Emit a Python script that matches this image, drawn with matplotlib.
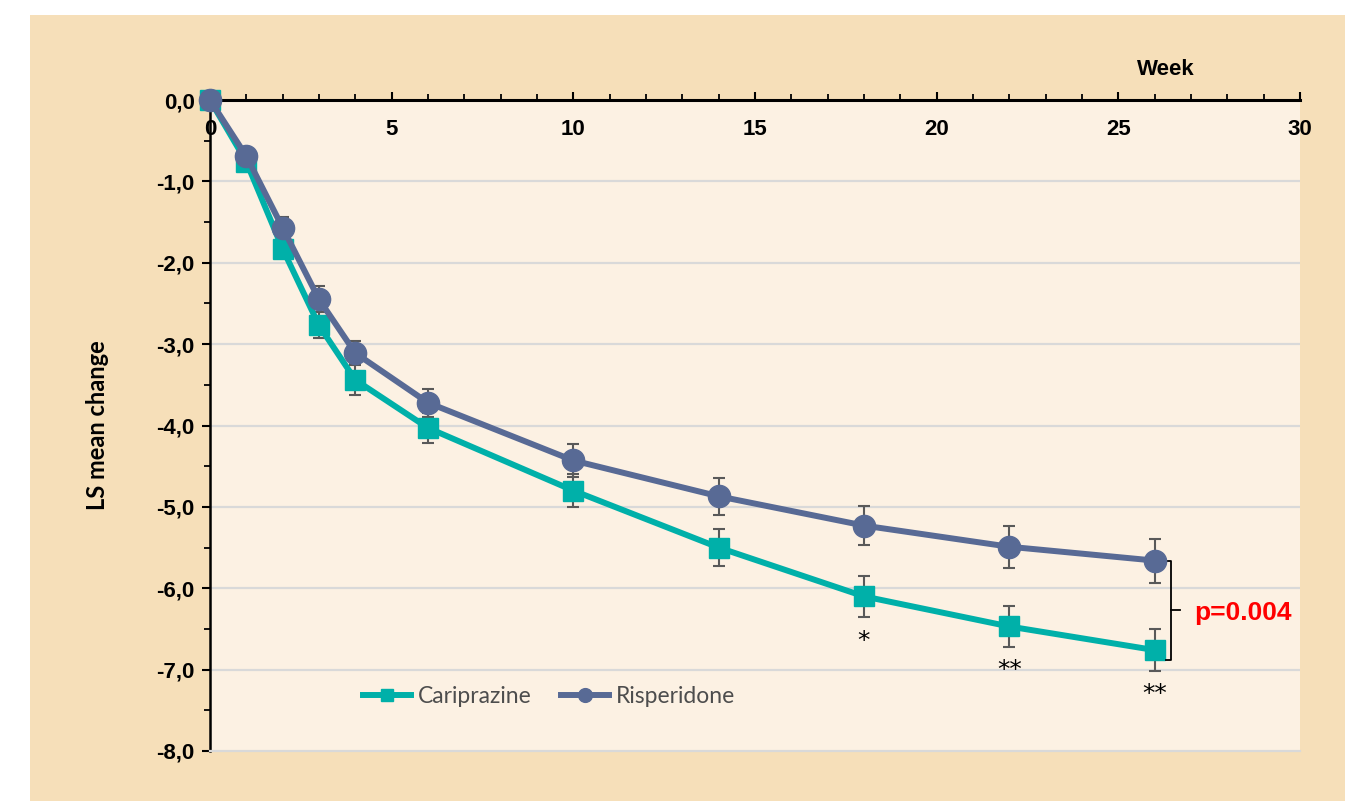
import matplotlib
matplotlib.use("Agg")
import matplotlib.pyplot as plt
from matplotlib.patches import Rectangle

# LS mean change by week
weeks = [0, 1, 2, 3, 4, 6, 10, 14, 18, 22, 26]
cariprazine = [0.0, -0.76, -1.83, -2.77, -3.44, -4.03, -4.80, -5.50, -6.10, -6.47, -6.76]
cariprazine_err = [0.0, 0.05, 0.10, 0.16, 0.19, 0.18, 0.20, 0.23, 0.25, 0.25, 0.26]
risperidone = [0.0, -0.69, -1.57, -2.45, -3.11, -3.72, -4.43, -4.87, -5.23, -5.49, -5.66]
risperidone_err = [0.0, 0.05, 0.13, 0.16, 0.15, 0.17, 0.20, 0.23, 0.24, 0.26, 0.27]

# significance marks under cariprazine
star_weeks = [18, 22, 26]
star_labels = ["*", "**", "**"]
star_y = [-6.57, -6.93, -7.22]

x_ticks = [0, 5, 10, 15, 20, 25, 30]
y_ticks = [0, -1, -2, -3, -4, -5, -6, -7, -8]
y_labels = ["0,0", "-1,0", "-2,0", "-3,0", "-4,0", "-5,0", "-6,0", "-7,0", "-8,0"]

teal = "#00B0A9"
slate = "#586A95"
tan = "#F6DFB9"
cream = "#FCF1E3"
errc = "#595959"

fig = plt.figure(figsize=(13.56, 8.01), dpi=100)
fig.patches.append(Rectangle((30 / 1356, 0), 1315 / 1356, 786 / 801,
                             transform=fig.transFigure, facecolor=tan,
                             edgecolor="none", zorder=-10))

ax = fig.add_axes([210 / 1356, 1 - 751 / 801, 1090 / 1356, 651 / 801])
ax.set_facecolor(cream)
ax.set_xlim(0, 30)
ax.set_ylim(-8, 0)

for v in y_ticks[1:-1]:
    ax.axhline(v, color="#D9D9D9", lw=1.6, zorder=1)

ax.errorbar(weeks, cariprazine, yerr=cariprazine_err, fmt="none", ecolor=errc,
            elinewidth=1.5, capsize=4.5, capthick=1.5, zorder=2)
ax.errorbar(weeks, risperidone, yerr=risperidone_err, fmt="none", ecolor=errc,
            elinewidth=1.5, capsize=4.5, capthick=1.5, zorder=2)
ax.plot(weeks, cariprazine, color=teal, lw=4.3, marker="s", ms=15,
        label="Cariprazine", zorder=3, clip_on=False)
ax.plot(weeks, risperidone, color=slate, lw=4.3, marker="o", ms=16,
        label="Risperidone", zorder=4, clip_on=False)

for w, s, yy in zip(star_weeks, star_labels, star_y):
    ax.text(w, yy - 0.08, s, ha="center", va="center", fontsize=18,
            color="black", family="DejaVu Sans")

# bracket between the week 26 values
bx = 26.45
ax.plot([bx - 0.15, bx, bx, bx - 0.15], [risperidone[-1], risperidone[-1], -6.88, -6.88],
        color="black", lw=1.3, zorder=3)
ymid = (risperidone[-1] - 6.88) / 2
ax.plot([bx, bx + 0.25], [ymid, ymid], color="black", lw=1.3, zorder=3)
ax.text(bx + 0.63, ymid - 0.03, "p=0.004", color="#FF0000", fontsize=19,
        fontweight="bold", family="Liberation Sans", va="center", ha="left")

ax.spines["right"].set_visible(False)
ax.spines["bottom"].set_color("#D9D9D9")
ax.spines["bottom"].set_linewidth(1.6)
ax.spines["top"].set_linewidth(2.2)
ax.spines["left"].set_linewidth(1.8)

ax.xaxis.tick_top()
ax.set_xticks(x_ticks)
ax.set_xticks(range(0, 31), minor=True)
ax.tick_params(axis="x", which="major", direction="out", length=6, width=1.5, pad=-35)
ax.tick_params(axis="x", which="minor", direction="out", length=4.5, width=1.3)
for lab in ax.get_xticklabels():
    lab.set_fontweight("bold")
    lab.set_fontfamily("Liberation Sans")
    lab.set_fontsize(16)

ax.set_yticks(y_ticks)
ax.set_yticklabels(y_labels, fontweight="bold", family="Liberation Sans", fontsize=16)
ax.set_yticks([v - 0.5 for v in y_ticks[:-1]], minor=True)
ax.tick_params(axis="y", which="major", direction="out", length=6, width=1.5, pad=5)
ax.tick_params(axis="y", which="minor", direction="out", length=4, width=1.3)

ax.text(26.3, 0.38, "Week", fontweight="bold", family="Liberation Sans",
        fontsize=16, ha="center", va="center", clip_on=False)
ax.set_ylabel("LS mean change", fontweight="bold", family="Lato", fontsize=17,
              labelpad=34)

leg = ax.legend(loc="center left", bbox_to_anchor=(0.14, 0.083), ncol=2,
                frameon=False, borderpad=0, borderaxespad=0, handlelength=2.1,
                handletextpad=0.3, columnspacing=1.3, markerscale=0.62,
                prop={"family": "Lato", "size": 16.5})
for t in leg.get_texts():
    t.set_color("#4D4D4D")

fig.savefig("out.png", dpi=100, facecolor="white")
